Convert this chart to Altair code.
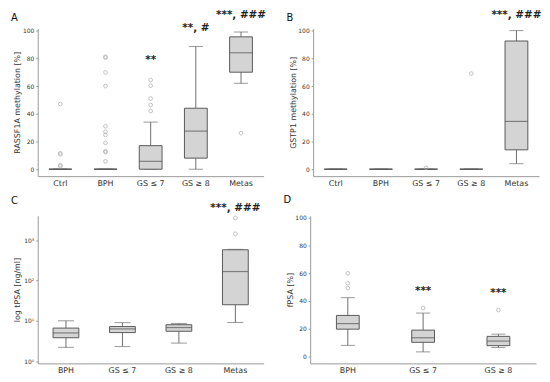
import altair as alt
import pandas as pd

# ---------------- Panel A : RASSF1A methylation ----------------
a_cats = ["Ctrl", "BPH", "GS ≤ 7", "GS ≥ 8", "Metas"]
a_lo = [0, 0, 0, 0, 62]
a_q1 = [0, 0, 0, 8, 70]
a_med = [0, 0, 5.7, 27.5, 84]
a_q3 = [0, 0, 17, 44, 95.5]
a_hi = [0, 0, 34, 88.5, 99]
a_out_cat = ["Ctrl"] * 5 + ["BPH"] * 11 + ["GS ≤ 7"] * 5 + ["Metas"]
a_out_val = [47, 11.5, 10.7, 2.9, 2.1,
             81.2, 80.5, 69.8, 60, 31, 27, 24.7, 19, 13, 12.4, 5.7,
             64.4, 60.3, 51, 46.3, 42,
             26]
a_ann_cat = ["GS ≤ 7", "GS ≥ 8", "Metas"]
a_ann_val = [78.5, 102, 111.5]
a_ann_txt = ["**", "**, #", "***, ###"]

# ---------------- Panel B : GSTP1 methylation ----------------
b_cats = ["Ctrl", "BPH", "GS ≤ 7", "GS ≥ 8", "Metas"]
b_lo = [0, 0, 0, 0, 4]
b_q1 = [0, 0, 0, 0, 14]
b_med = [0, 0, 0, 0, 34.5]
b_q3 = [0, 0, 0, 0, 92.5]
b_hi = [0, 0, 0, 0, 100]
b_out_cat = ["GS ≤ 7", "GS ≥ 8"]
b_out_val = [1, 69]
b_ann_cat = ["Metas"]
b_ann_val = [111.5]
b_ann_txt = ["***, ###"]

# ---------------- Panel C : log tPSA ----------------
c_cats = ["BPH", "GS ≤ 7", "GS ≥ 8", "Metas"]
c_lo = [2.2, 2.3, 2.8, 9.1]
c_q1 = [3.8, 5.1, 5.5, 25]
c_med = [5.0, 6.3, 6.8, 166]
c_q3 = [6.6, 7.2, 8.0, 575]
c_hi = [10, 9, 8.6, 590]
c_out_cat = ["Metas", "Metas"]
c_out_val = [1430, 3540]
c_ann_cat = ["Metas"]
c_ann_val = [6100]
c_ann_txt = ["***, ###"]

# ---------------- Panel D : fPSA ----------------
d_cats = ["BPH", "GS ≤ 7", "GS ≥ 8"]
d_lo = [8, 3.3, 6.5]
d_q1 = [19.7, 10.2, 7.8]
d_med = [23.7, 13.5, 11.1]
d_q3 = [29.6, 19, 14.5]
d_hi = [42.4, 31.3, 16.1]
d_out_cat = ["BPH", "BPH", "BPH", "GS ≤ 7", "GS ≥ 8"]
d_out_val = [60, 52.8, 49.3, 35, 33.5]
d_ann_cat = ["GS ≤ 7", "GS ≥ 8"]
d_ann_val = [47.2, 46]
d_ann_txt = ["***", "***"]

PW, PH = 228, 149
FONT = "DejaVu Sans"
BOX_FILL = "#d4d4d4"
BOX_STROKE = "#5a5a5a"
WHISK = "#6e6e6e"
OUT = "#a8a8a8"


def panel(cats, lo, q1, med, q3, hi, oc, ov, ac, av, at,
          ytitle, letter, letter_y, yscale, yaxis, box_w):
    stats = pd.DataFrame(dict(cat=cats, lo=lo, q1=q1, med=med, q3=q3, hi=hi))
    outl = pd.DataFrame(dict(cat=oc, val=ov))
    ann = pd.DataFrame(dict(cat=ac, val=av, txt=at))

    x = alt.X("cat:N", sort=cats, title=None,
              scale=alt.Scale(domain=cats, paddingInner=0, paddingOuter=0),
              axis=alt.Axis(labelAngle=0, ticks=False, labelPadding=3,
                            labelFontSize=8, grid=False))

    def Y(field):
        return alt.Y(field, type="quantitative", title=ytitle, scale=yscale, axis=yaxis)

    base = alt.Chart(stats)
    whisk_lo = base.mark_rule(color=WHISK, strokeWidth=1).encode(x=x, y=Y("lo"), y2="q1")
    whisk_hi = base.mark_rule(color=WHISK, strokeWidth=1).encode(x=x, y=Y("q3"), y2="hi")
    cap_lo = base.mark_tick(color=WHISK, size=box_w * 0.62, thickness=1).encode(x=x, y=Y("lo"))
    cap_hi = base.mark_tick(color=WHISK, size=box_w * 0.62, thickness=1).encode(x=x, y=Y("hi"))
    box = base.mark_bar(size=box_w, fill=BOX_FILL, stroke=BOX_STROKE,
                        strokeWidth=1).encode(x=x, y=Y("q1"), y2="q3")
    median = base.mark_tick(color=BOX_STROKE, size=box_w, thickness=1.2).encode(x=x, y=Y("med"))
    pts = alt.Chart(outl).mark_point(shape="circle", filled=False, size=14,
                                     color=OUT, strokeWidth=1).encode(x=x, y=Y("val"))
    txt = alt.Chart(ann).mark_text(font=FONT, fontSize=10.5, fontWeight="bold",
                                   color="#222222", baseline="middle").encode(
        x=x, y=Y("val"), text="txt:N")
    lab = alt.Chart(pd.DataFrame({"t": [letter]})).mark_text(
        font=FONT, fontSize=10, align="left", baseline="alphabetic", color="#111111"
    ).encode(x=alt.value(-27), y=alt.value(letter_y), text="t:N")
    return alt.layer(whisk_lo, whisk_hi, cap_lo, cap_hi, box, median, pts, txt, lab).properties(
        width=PW, height=PH)


lin_axis = alt.Axis(values=[0, 20, 40, 60, 80, 100], labelFontSize=6, tickSize=2,
                    labelPadding=2, minExtent=14, maxExtent=14, titlePadding=2,
                    titleFontSize=8, titleFontWeight="normal", grid=False)
log_axis = alt.Axis(values=[1, 10, 100, 1000], labelFontSize=6, tickSize=2,
                    labelPadding=2, minExtent=14, maxExtent=14, titlePadding=2,
                    titleFontSize=8, titleFontWeight="normal", grid=False,
                    labelExpr="datum.value == 1 ? '10⁰' : datum.value == 10 ? '10¹' : datum.value == 100 ? '10²' : '10³'")

pA = panel(a_cats, a_lo, a_q1, a_med, a_q3, a_hi, a_out_cat, a_out_val,
           a_ann_cat, a_ann_val, a_ann_txt, "RASSF1A methylation [%]", "A", -8,
           alt.Scale(domain=[-5, 101.5], nice=False, zero=False), lin_axis, 23)
pB = panel(b_cats, b_lo, b_q1, b_med, b_q3, b_hi, b_out_cat, b_out_val,
           b_ann_cat, b_ann_val, b_ann_txt, "GSTP1 methylation [%]", "B", -8,
           alt.Scale(domain=[-5, 101.5], nice=False, zero=False), lin_axis, 23)
pC = panel(c_cats, c_lo, c_q1, c_med, c_q3, c_hi, c_out_cat, c_out_val,
           c_ann_cat, c_ann_val, c_ann_txt, "log tPSA [ng/ml]", "C", -12,
           alt.Scale(type="log", domain=[0.88, 4000], nice=False), log_axis, 26)
pD = panel(d_cats, d_lo, d_q1, d_med, d_q3, d_hi, d_out_cat, d_out_val,
           d_ann_cat, d_ann_val, d_ann_txt, "fPSA [%]", "D", -13,
           alt.Scale(domain=[-5, 101.5], nice=False, zero=False), lin_axis, 23)

row1 = alt.hconcat(pA, pB, spacing=20)
row2 = alt.hconcat(pC, pD, spacing=20)
chart = alt.vconcat(row1, row2, spacing=8).properties(
    padding={"left": 3, "top": 0, "right": 0, "bottom": 0}
).configure(font=FONT).configure_view(stroke=None).configure_axis(
    domainColor="#9a9a9a", tickColor="#9a9a9a", labelColor="#333333",
    titleColor="#333333", labelFont=FONT, titleFont=FONT
)

chart.save("out.html", embed_options={"renderer": "svg", "actions": False})
